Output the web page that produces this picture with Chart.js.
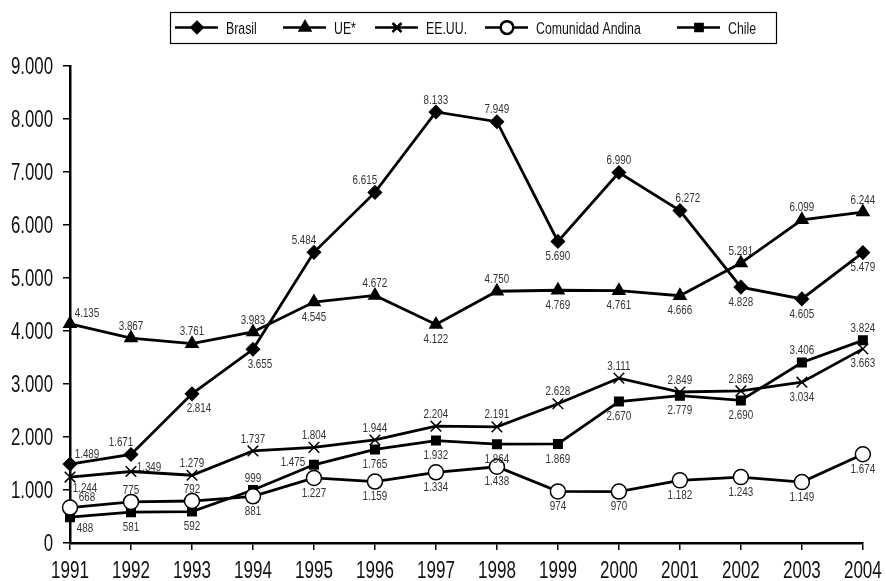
<!DOCTYPE html>
<html>
<head>
<meta charset="utf-8">
<script src="https://cdn.jsdelivr.net/npm/chart.js@4/dist/chart.umd.min.js"></script>
<style>
  html, body { margin: 0; padding: 0; background: #fff; }
  #wrap { width: 886px; height: 581px; }
</style>
</head>
<body>
<div id="wrap"><canvas id="chart"></canvas></div>
<script>
const years = ["1991", "1992", "1993", "1994", "1995", "1996", "1997", "1998", "1999", "2000", "2001", "2002", "2003", "2004"];
const brasil = [1489, 1671, 2814, 3655, 5484, 6615, 8133, 7949, 5690, 6990, 6272, 4828, 4605, 5479];
const ue = [4135, 3867, 3761, 3983, 4545, 4672, 4122, 4750, 4769, 4761, 4666, 5281, 6099, 6244];
const eeuu = [1244, 1349, 1279, 1737, 1804, 1944, 2204, 2191, 2628, 3111, 2849, 2869, 3034, 3663];
const andina = [668, 775, 792, 881, 1227, 1159, 1334, 1438, 974, 970, 1182, 1243, 1149, 1674];
const chile = [488, 581, 592, 999, 1475, 1765, 1932, 1864, 1869, 2670, 2779, 2690, 3406, 3824];
const yTicks = [0, 1000, 2000, 3000, 4000, 5000, 6000, 7000, 8000, 9000];

const FONT = "'Liberation Sans', Arial, sans-serif";

// where each value label sits relative to its point
const labelPos = [
    ["R", "al", "br", "br", "al", "al", "a", "a", "b", "a", "ar", "b", "b", "b"],
    ["R", "a", "a", "a", "b", "a", "b", "a", "b", "b", "b", "a", "a", "a"],
    ["Rb", "r", "a", "a", "a", "a", "a", "a", "a", "a", "a", "a", "b", "b"],
    ["R", "a", "a", "b", "b", "b", "b", "b", "b", "b", "b", "b", "b", "b"],
    ["Rb", "b", "b", "a", "l", "b", "b", "b", "b", "b", "b", "b", "a", "a"]
];
const offsets = {
    a: [0, -13], b: [0, 14], al: [-10, -13], ar: [8, -13], br: [7, 14], bl: [-8, 14],
    R: [17, -11], Rb: [15, 10], r: [18, -5], l: [-21, -3]
};

function fmt(v) {
    return v.toString().replace(/\B(?=(\d{3})+(?!\d))/g, ".");
}

// condensed look: squeeze a regular sans horizontally
function narrowText(ctx, text, x, y, size, align, sx) {
    ctx.save();
    ctx.font = size + "px " + FONT;
    ctx.textAlign = align;
    ctx.textBaseline = "alphabetic";
    ctx.translate(x, y);
    ctx.scale(sx, 1);
    ctx.fillText(text, 0, 0);
    ctx.restore();
}

const axisText = {
    id: "axisText",
    afterDraw(chart) {
        const ctx = chart.ctx;
        const xs = chart.scales.x, ys = chart.scales.y;
        ctx.save();
        ctx.fillStyle = "#111";
        ys.ticks.forEach(t => {
            narrowText(ctx, fmt(t.value), 53, ys.getPixelForValue(t.value) + 8.2, 23, "right", 0.73);
        });
        years.forEach((y, i) => {
            narrowText(ctx, y, xs.getPixelForValue(i), 578, 23, "center", 0.74);
        });
        ctx.restore();
    }
};

const valueLabels = {
    id: "valueLabels",
    afterDatasetsDraw(chart) {
        const ctx = chart.ctx;
        ctx.save();
        ctx.fillStyle = "#333";
        chart.data.datasets.forEach((ds, i) => {
            chart.getDatasetMeta(i).data.forEach((pt, j) => {
                const o = offsets[labelPos[i][j]];
                narrowText(ctx, fmt(ds.data[j]), pt.x + o[0], pt.y + o[1] + 4.6, 12.8, "center", 0.77);
            });
        });
        ctx.restore();
    }
};

const boxLegend = {
    id: "boxLegend",
    afterDraw(chart) {
        const ctx = chart.ctx;
        const starts = [175, 283, 375, 485, 677];
        ctx.save();
        ctx.strokeStyle = "#000";
        ctx.lineWidth = 1.2;
        ctx.strokeRect(170.5, 12.5, 606, 31);
        chart.data.datasets.forEach((ds, i) => {
            const x0 = starts[i], y = 27.5;
            ctx.strokeStyle = "#000";
            ctx.lineWidth = 2.5;
            ctx.beginPath();
            ctx.moveTo(x0, y);
            ctx.lineTo(x0 + 43, y);
            ctx.stroke();
            ctx.fillStyle = ds.pointBackgroundColor;
            ctx.strokeStyle = "#000";
            Chart.helpers.drawPoint(ctx, {
                pointStyle: ds.pointStyle, rotation: 0,
                radius: ds.pointRadius * 0.85, borderWidth: ds.pointBorderWidth
            }, x0 + 22, y);
            ctx.fillStyle = "#111";
            narrowText(ctx, ds.label, x0 + 51, y + 6, 16, "left", 0.77);
        });
        ctx.restore();
    }
};

function series(label, data, style, radius, fill) {
    return {
        label: label,
        data: data,
        borderColor: "#000",
        borderWidth: 2.8,
        pointStyle: style,
        pointRadius: radius,
        pointHoverRadius: radius,
        pointBackgroundColor: fill,
        pointBorderColor: "#000",
        pointBorderWidth: 1.5,
        tension: 0,
        fill: false
    };
}

new Chart(document.getElementById("chart").getContext("2d"), {
    type: "line",
    data: {
        labels: years,
        datasets: [
            series("Brasil", brasil, "rectRot", 6.5, "#000"),
            series("UE*", ue, "triangle", 7, "#000"),
            series("EE.UU.", eeuu, "crossRot", 7.5, "#000"),
            series("Comunidad Andina", andina, "circle", 7.5, "#fff"),
            series("Chile", chile, "rect", 6, "#000")
        ]
    },
    options: {
        responsive: true,
        maintainAspectRatio: false,
        animation: false,
        layout: { padding: { top: 66, right: 20, left: 0, bottom: 0 } },
        plugins: {
            legend: { display: false },
            tooltip: { enabled: false }
        },
        scales: {
            x: {
                offset: false,
                grid: { display: true, drawOnChartArea: false, tickLength: 7, tickColor: "#000", lineWidth: 1.5 },
                border: { display: true, color: "#000", width: 2.5 },
                ticks: { color: "rgba(0,0,0,0)", font: { family: FONT, size: 19 }, padding: 2, maxRotation: 0, autoSkip: false },
                afterFit(scale) { scale.height = 38; }
            },
            y: {
                min: 0,
                max: 9000,
                afterBuildTicks(scale) { scale.ticks = yTicks.map(v => ({ value: v })); },
                grid: { display: true, drawOnChartArea: false, tickLength: 7, tickColor: "#000", lineWidth: 1.5 },
                border: { display: true, color: "#000", width: 2.5 },
                ticks: { color: "rgba(0,0,0,0)", font: { family: FONT, size: 19 }, padding: 3 },
                afterFit(scale) { scale.width = 70; }
            }
        }
    },
    plugins: [valueLabels, axisText, boxLegend]
});
</script>
</body>
</html>
